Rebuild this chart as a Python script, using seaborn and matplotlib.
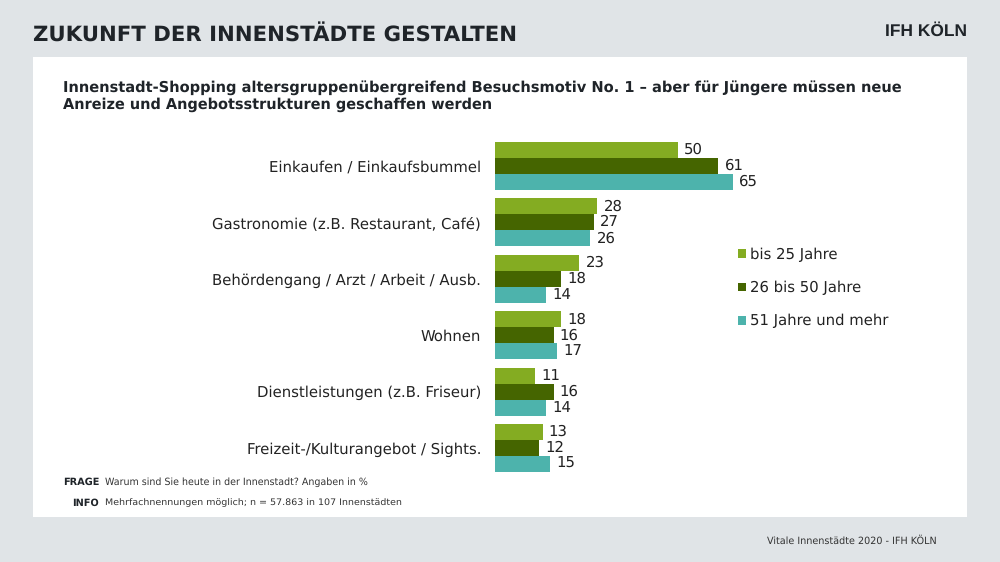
import pandas as pd
import seaborn as sns
import matplotlib.pyplot as plt
from matplotlib.patches import Rectangle

# Daten
categories = ["Einkaufen / Einkaufsbummel", "Gastronomie (z.B. Restaurant, Café)",
              "Behördengang / Arzt / Arbeit / Ausb.", "Wohnen",
              "Dienstleistungen (z.B. Friseur)", "Freizeit-/Kulturangebot / Sights."]
age_groups = ["bis 25 Jahre", "26 bis 50 Jahre", "51 Jahre und mehr"]
young = [50, 28, 23, 18, 11, 13]
middle = [61, 27, 18, 16, 16, 12]
old = [65, 26, 14, 17, 14, 15]
colors = ["#84AC22", "#456500", "#4DB3AC"]

W, H = 1000, 562
BG = "#E0E4E7"
DARK = "#1F2429"

df = pd.DataFrame({"kategorie": categories, age_groups[0]: young, age_groups[1]: middle, age_groups[2]: old})
df = df.melt(id_vars="kategorie", var_name="alter", value_name="wert")

sns.set_theme(style="white")
plt.rcParams["font.family"] = ["DejaVu Sans"]
plt.rcParams["text.hinting"] = "no_hinting"

fig = plt.figure(figsize=(W / 100, H / 100), dpi=100, facecolor=BG)

# weisse Flaeche
fig.add_artist(Rectangle((33 / W, 1 - 517 / H), 934 / W, 460 / H, transform=fig.transFigure,
                         facecolor="white", edgecolor="none", zorder=0))

# Achse in Pixeln: x=495 ist 0, 3.66 px pro Einheit
ax = fig.add_axes([495 / W, 1 - 476.2 / H, 366 / W, 338.5 / H])
ax.patch.set_alpha(0)
sns.barplot(data=df, y="kategorie", x="wert", hue="alter", order=categories, hue_order=age_groups,
            palette=colors, width=0.85, saturation=1, linewidth=0, ax=ax, orient="h")
ax.set_xlim(0, 100)
ax.set_xlabel("")
ax.set_ylabel("")
ax.set_xticks([])
sns.despine(ax=ax, left=True, bottom=True)
ax.tick_params(axis="y", length=0, pad=10, labelsize=10.75, labelcolor="#222222")

for container in ax.containers:
    ax.bar_label(container, padding=4.5, fontsize=10.75, color="#222222")

handles, labels = ax.get_legend_handles_labels()
ax.legend(handles, labels, loc="upper left", bbox_to_anchor=(0.664, 0.675), frameon=False,
          fontsize=10.75, labelcolor="#222222", handlelength=0.54, handleheight=0.54,
          handletextpad=0.28, labelspacing=1.25, borderpad=0, borderaxespad=0)

# Texte
fig.text(33 / W, 1 - 35 / H, "ZUKUNFT DER INNENSTÄDTE GESTALTEN", fontsize=15.3, fontweight="bold",
         color=DARK, va="center", ha="left")
fig.text(967 / W, 1 - 31 / H, "IFH KÖLN", fontsize=12.5, fontweight="bold", color=DARK, va="center", ha="right",
         family="Liberation Sans")
fig.text(63 / W, 1 - 88 / H, "Innenstadt-Shopping altersgruppenübergreifend Besuchsmotiv No. 1 – aber für Jüngere müssen neue",
         fontsize=10.55, fontweight="bold", color=DARK, va="center")
fig.text(63 / W, 1 - 105 / H, "Anreize und Angebotsstrukturen geschaffen werden",
         fontsize=10.45, fontweight="bold", color=DARK, va="center")

fig.text(99 / W, 1 - 482 / H, "FRAGE", fontsize=7, fontweight="bold", color=DARK, va="center", ha="right")
fig.text(105 / W, 1 - 482 / H, "Warum sind Sie heute in der Innenstadt? Angaben in %", fontsize=6.85, color="#333333", va="center")
fig.text(99 / W, 1 - 503 / H, "INFO", fontsize=7, fontweight="bold", color=DARK, va="center", ha="right")
fig.text(105 / W, 1 - 503 / H, "Mehrfachnennungen möglich; n = 57.863 in 107 Innenstädten", fontsize=6.8, color="#333333", va="center")
fig.text(937 / W, 1 - 541 / H, "Vitale Innenstädte 2020 - IFH KÖLN", fontsize=6.9, color="#333333", va="center", ha="right")

fig.savefig("out.png", dpi=100, facecolor=BG)
